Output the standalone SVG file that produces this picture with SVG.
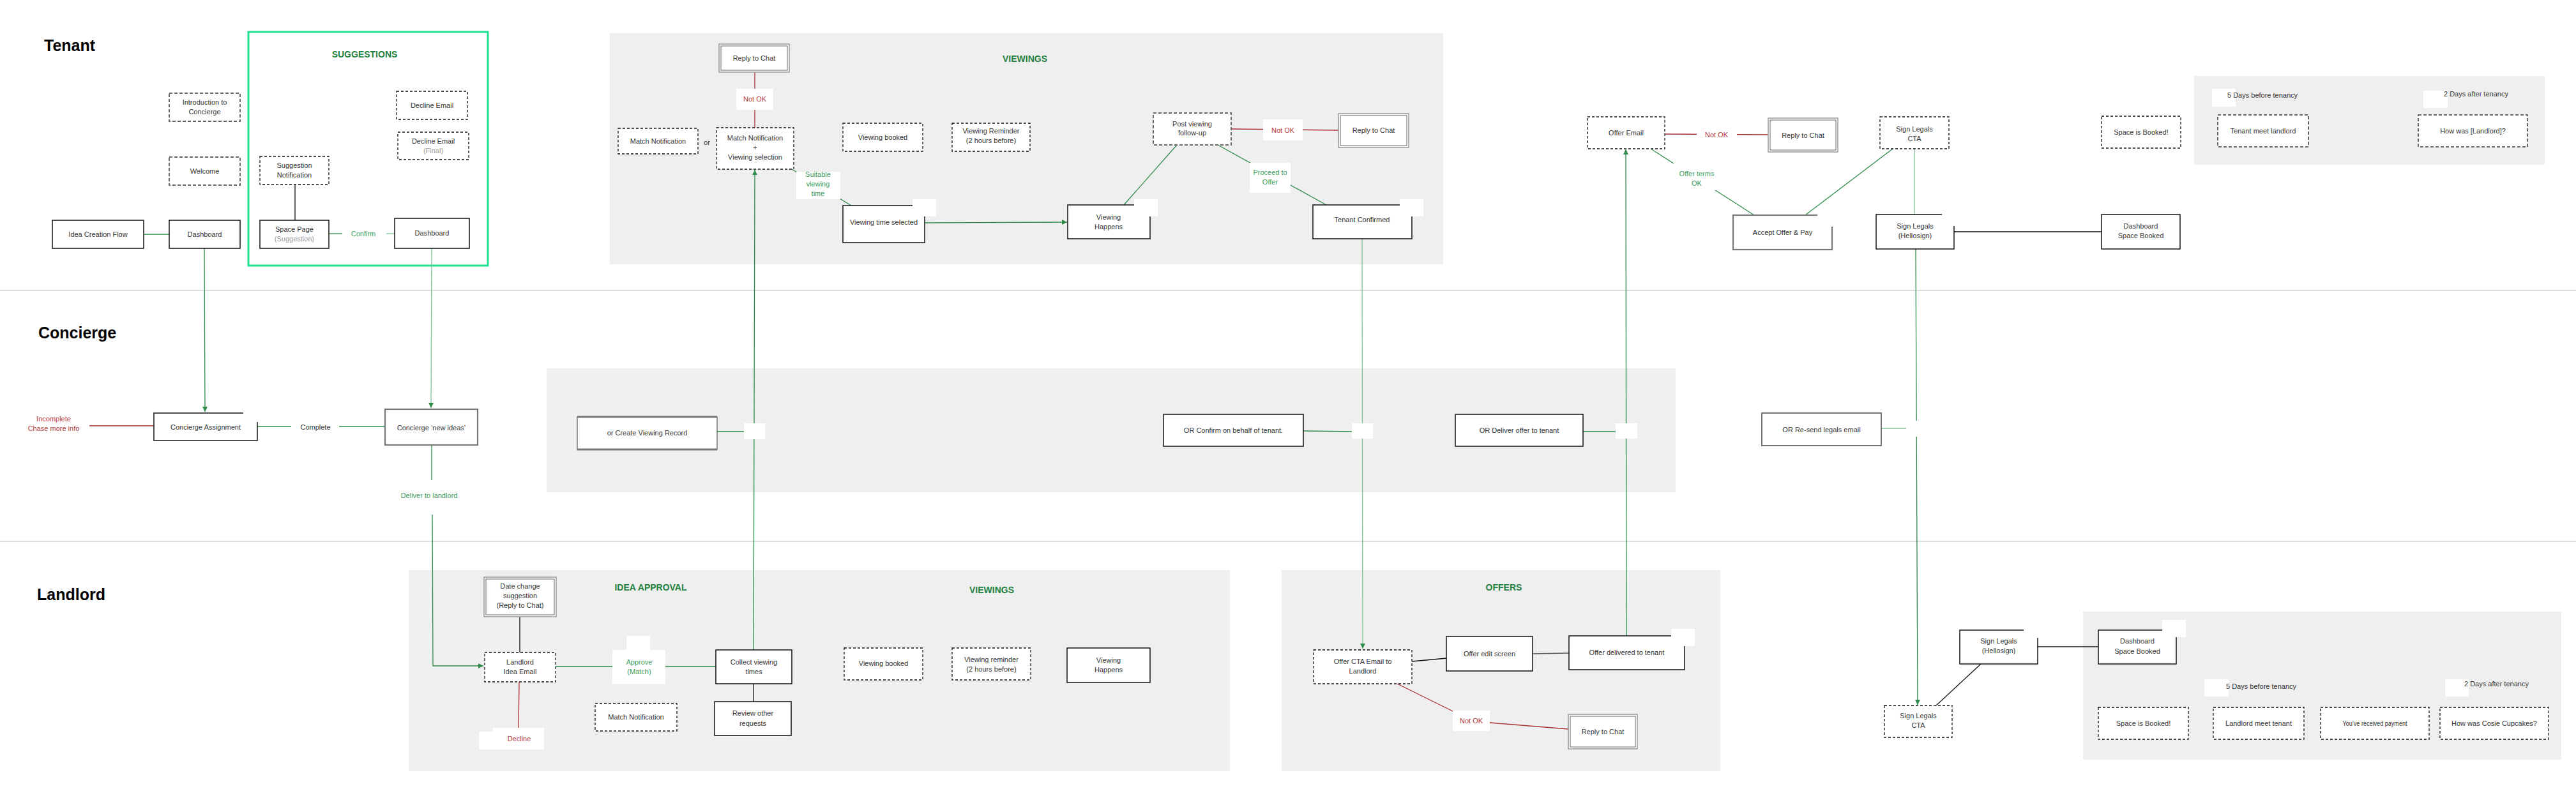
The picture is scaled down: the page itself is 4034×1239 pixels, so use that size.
<svg xmlns="http://www.w3.org/2000/svg" width="4034" height="1239" viewBox="0 0 4034 1239">
<defs>
<style>
.n{fill:#fff;stroke:#111;stroke-width:1.5}
.d{fill:#fff;stroke:#111;stroke-width:1.3;stroke-dasharray:4 3}
.dg{fill:#fff;stroke:#666;stroke-width:2;stroke-dasharray:5 3}
.gb{fill:#fff;stroke:#777;stroke-width:2.2}
.dbo{fill:#fff;stroke:#999;stroke-width:1.5}
.dbi{fill:none;stroke:#666;stroke-width:1}
.t{font-family:"Liberation Sans",Arial,sans-serif;font-size:11px;fill:#333;text-anchor:middle}
.sub{fill:#999}
.lg{fill:#3a9d5d}
.lr{fill:#b53a3a}
.h{font-family:"Liberation Sans",Arial,sans-serif;font-weight:bold;font-size:14px;fill:#1f7f3e;text-anchor:middle}
.lane{font-family:"Liberation Sans",Arial,sans-serif;font-weight:bold;font-size:25px;fill:#000}
.cg{stroke:#2e8b4a;stroke-width:1.3;fill:none}
.cl{stroke:#7fbf96;stroke-width:1.3;fill:none}
.cr{stroke:#a83232;stroke-width:1.3;fill:none}
.ck{stroke:#111;stroke-width:1.3;fill:none}
.bg{fill:#efefef}
.wp{fill:#fff}
.sep{stroke:#dddddd;stroke-width:2}
</style>
<marker id="ag" viewBox="0 0 10 10" refX="10" refY="5" markerWidth="8" markerHeight="8" markerUnits="userSpaceOnUse" orient="auto"><path d="M0,0 L10,5 L0,10 z" fill="#2e8b4a"/></marker>
</defs>
<rect width="4034" height="1239" fill="#fff"/>

<g id="backgrounds">
<line class="sep" x1="0" y1="455" x2="4034" y2="455"/>
<line class="sep" x1="0" y1="848" x2="4034" y2="848"/>
<rect class="bg" x="955" y="52" width="1305" height="362"/>
<rect class="bg" x="3436" y="119" width="549" height="139"/>
<rect class="bg" x="856" y="577" width="1768" height="194"/>
<rect class="bg" x="640" y="893" width="1286" height="315"/>
<rect class="bg" x="2007" y="893" width="687" height="315"/>
<rect class="bg" x="3262" y="958" width="749" height="232"/>
<rect x="389" y="50" width="375" height="366" fill="none" stroke="#1ee08e" stroke-width="3"/>
</g>

<g id="titles">
<text class="lane" x="69" y="80">Tenant</text>
<text class="lane" x="60" y="530">Concierge</text>
<text class="lane" x="58" y="940">Landlord</text>
<text class="h" x="571" y="90">SUGGESTIONS</text>
<text class="h" x="1605" y="97">VIEWINGS</text>
<text class="h" x="1019" y="925">IDEA APPROVAL</text>
<text class="h" x="1553" y="929">VIEWINGS</text>
<text class="h" x="2355" y="925">OFFERS</text>
</g>

<g id="connectors">
<!-- tenant suggestions -->
<line class="cg" x1="225" y1="367" x2="265" y2="367"/>
<line class="ck" x1="462" y1="289" x2="462" y2="345"/>
<line class="cg" x1="515" y1="366" x2="536" y2="366"/>
<line class="cl" x1="605" y1="366" x2="618" y2="366"/>
<text class="t lg" x="569" y="370">Confirm</text>
<line class="cg" x1="320" y1="389" x2="321" y2="645" marker-end="url(#ag)"/>
<line class="cl" x1="676" y1="389" x2="675" y2="639" marker-end="url(#ag)"/>
<!-- concierge -->
<line class="cr" x1="140" y1="667" x2="241" y2="667"/>
<text class="t lr" x="84" y="660">Incomplete</text>
<text class="t lr" x="84" y="675">Chase more info</text>
<line class="cg" x1="403" y1="668" x2="456" y2="668"/>
<line class="cg" x1="531" y1="668" x2="603" y2="668"/>
<text class="t" x="494" y="673" fill="#444">Complete</text>
<line class="cg" x1="676" y1="697" x2="676" y2="752"/>
<text class="t lg" x="672" y="780">Deliver to landlord</text>
<polyline class="cg" points="677,806 678,1043 757,1043" marker-end="url(#ag)"/>
<!-- viewings tenant -->
<line class="cr" x1="1182" y1="113" x2="1182" y2="200"/>
<rect class="wp" x="1153" y="139" width="58" height="33"/>
<text class="t lr" x="1182" y="159">Not OK</text>
<line class="cg" x1="1240" y1="265" x2="1333" y2="322"/>
<rect class="wp" x="1247" y="269" width="69" height="43"/>
<text class="t lg" x="1281" y="277">Suitable</text>
<text class="t lg" x="1281" y="292">viewing</text>
<text class="t lg" x="1281" y="307">time</text>
<line class="cg" x1="1448" y1="349" x2="1671" y2="348" marker-end="url(#ag)"/>
<line class="cg" x1="1760" y1="321" x2="1843" y2="227"/>
<line class="cg" x1="1907" y1="227" x2="2077" y2="321"/>
<rect class="wp" x="1957" y="255" width="64" height="47"/>
<text class="t lg" x="1989" y="274">Proceed to</text>
<text class="t lg" x="1989" y="289">Offer</text>
<line class="cr" x1="1928" y1="202" x2="2096" y2="204"/>
<rect class="wp" x="1978" y="187" width="62" height="33"/>
<text class="t lr" x="2009" y="208">Not OK</text>
<line class="cl" x1="2133" y1="374" x2="2134" y2="1016" marker-end="url(#ag)"/>
<line class="cg" x1="1180" y1="1018" x2="1182" y2="266" marker-end="url(#ag)"/>
<line class="cg" x1="1123" y1="676" x2="1165" y2="676"/>
<line class="cg" x1="2041" y1="675" x2="2117" y2="676"/>
<line class="cg" x1="2479" y1="676" x2="2530" y2="676"/>
<line class="cg" x1="2547" y1="996" x2="2546" y2="234" marker-end="url(#ag)"/>
<!-- offers tenant -->
<line class="cr" x1="2607" y1="210" x2="2769" y2="211"/>
<rect class="wp" x="2657" y="200" width="63" height="22"/>
<text class="t lr" x="2688" y="215">Not OK</text>
<line class="cg" x1="2585" y1="233" x2="2747" y2="337"/>
<rect class="wp" x="2620" y="256" width="72" height="42"/>
<text class="t lg" x="2657" y="276">Offer terms</text>
<text class="t lg" x="2657" y="291">OK</text>
<line class="cg" x1="2964" y1="233" x2="2827" y2="337"/>
<line class="cl" x1="2998" y1="233" x2="2998" y2="336"/>
<line class="ck" x1="3060" y1="363" x2="3291" y2="363"/>
<line class="cg" x1="3000" y1="390" x2="3003" y2="1104" marker-end="url(#ag)"/>
<line class="cl" x1="2946" y1="671" x2="2985" y2="671"/>
<!-- landlord -->
<line class="ck" x1="814" y1="966" x2="814" y2="1022"/>
<line class="cg" x1="870" y1="1044" x2="1121" y2="1044"/>
<rect class="wp" x="959" y="1018" width="83" height="53"/>
<rect class="wp" x="981" y="996" width="37" height="22"/>
<text class="t lg" x="1001" y="1041">Approve</text>
<text class="t lg" x="1001" y="1056">(Match)</text>
<line class="cr" x1="813" y1="1068" x2="812" y2="1140"/>
<rect class="wp" x="750" y="1146" width="22" height="28"/>
<rect class="wp" x="772" y="1140" width="80" height="34"/>
<text class="t lr" x="813" y="1161">Decline</text>
<line class="ck" x1="1180" y1="1071" x2="1180" y2="1099"/>
<line class="ck" x1="2211" y1="1036" x2="2265" y2="1031"/>
<line x1="2400" y1="1024" x2="2457" y2="1023" stroke="#555" stroke-width="1.5"/>
<line class="cr" x1="2188" y1="1071" x2="2275" y2="1114"/>
<line class="cr" x1="2333" y1="1132" x2="2456" y2="1142"/>
<rect class="wp" x="2275" y="1113" width="58" height="32"/>
<text class="t lr" x="2304" y="1133">Not OK</text>
<line class="ck" x1="3032" y1="1105" x2="3102" y2="1040"/>
<line class="ck" x1="3191" y1="1013" x2="3286" y2="1013"/>
</g>

<g id="tenant-nodes">
<g id="t-idea"><rect class="n" x="82" y="345" width="143" height="44"/><text class="t" x="153.5" y="371">Idea Creation Flow</text></g>
<g id="t-dash1"><rect class="n" x="265" y="345" width="111" height="44"/><text class="t" x="320.5" y="371">Dashboard</text></g>
<g id="t-intro"><rect class="dg" x="265" y="146" width="111" height="44"/><text class="t" x="320.5" y="164">Introduction to</text><text class="t" x="320.5" y="179">Concierge</text></g>
<g id="t-welcome"><rect class="dg" x="265" y="246" width="111" height="44"/><text class="t" x="320.5" y="272">Welcome</text></g>
<g id="t-sugnotif"><rect class="d" x="407" y="245" width="108" height="44"/><text class="t" x="461" y="263">Suggestion</text><text class="t" x="461" y="278">Notification</text></g>
<g id="t-spacepage"><rect class="n" x="407" y="345" width="108" height="44"/><text class="t" x="461" y="363">Space Page</text><text class="t sub" x="461" y="378">(Suggestion)</text></g>
<g id="t-decline"><rect class="d" x="621" y="143" width="111" height="44"/><text class="t" x="676.5" y="169">Decline Email</text></g>
<g id="t-declinefinal"><rect class="d" x="623" y="207" width="111" height="43"/><text class="t" x="678.5" y="225">Decline Email</text><text class="t sub" x="678.5" y="240">(Final)</text></g>
<g id="t-dash2"><rect class="n" x="618" y="342" width="117" height="47"/><text class="t" x="676.5" y="369">Dashboard</text></g>
<g id="t-reply1"><rect class="dbo" x="1126" y="69" width="110" height="44"/><rect class="dbi" x="1129" y="72" width="104" height="38"/><text class="t" x="1181" y="95">Reply to Chat</text></g>
<g id="t-match1"><rect class="d" x="968" y="201" width="125" height="40"/><text class="t" x="1030.5" y="225">Match Notification</text></g>
<text class="t" x="1107" y="227">or</text>
<g id="t-matchsel"><rect class="d" x="1122" y="200" width="121" height="65"/><text class="t" x="1182.5" y="220">Match Notification</text><text class="t" x="1182.5" y="235">+</text><text class="t" x="1182.5" y="250">Viewing selection</text></g>
<g id="t-vbooked"><rect class="d" x="1320" y="193" width="125" height="44"/><text class="t" x="1382.5" y="219">Viewing booked</text></g>
<g id="t-vrem"><rect class="d" x="1491" y="193" width="122" height="44"/><text class="t" x="1552" y="209">Viewing Reminder</text><text class="t" x="1552" y="224">(2 hours before)</text></g>
<g id="t-vtime"><rect class="n" x="1320" y="322" width="128" height="58"/><text class="t" x="1384" y="352">Viewing time selected</text></g>
<g id="t-vhappens"><rect class="n" x="1672" y="321" width="129" height="53"/><text class="t" x="1736" y="344">Viewing</text><text class="t" x="1736" y="359">Happens</text></g>
<g id="t-postview"><rect class="dg" x="1806" y="177" width="122" height="50"/><text class="t" x="1867" y="198">Post viewing</text><text class="t" x="1867" y="212">follow-up</text></g>
<g id="t-reply2"><rect class="dbo" x="2096" y="178" width="110" height="53"/><rect class="dbi" x="2099" y="181" width="104" height="47"/><text class="t" x="2151" y="208">Reply to Chat</text></g>
<g id="t-tconf"><rect class="n" x="2056" y="321" width="155" height="53"/><text class="t" x="2133" y="348">Tenant Confirmed</text></g>
<g id="t-offeremail"><rect class="d" x="2486" y="183" width="121" height="50"/><text class="t" x="2546.5" y="212">Offer Email</text></g>
<g id="t-reply3"><rect class="dbo" x="2769" y="185" width="109" height="53"/><rect class="dbi" x="2772" y="188" width="103" height="47"/><text class="t" x="2823.5" y="216">Reply to Chat</text></g>
<g id="t-accept"><rect class="gb" x="2714" y="337" width="155" height="54"/><text class="t" x="2791.5" y="368">Accept Offer &amp; Pay</text></g>
<g id="t-slcta"><rect class="d" x="2944" y="183" width="108" height="50"/><text class="t" x="2998" y="206">Sign Legals</text><text class="t" x="2998" y="221">CTA</text></g>
<g id="t-slhello"><rect class="n" x="2938" y="336" width="122" height="54"/><text class="t" x="2999" y="358">Sign Legals</text><text class="t" x="2999" y="373">(Hellosign)</text></g>
<g id="t-spacebooked"><rect class="d" x="3291" y="182" width="124" height="50"/><text class="t" x="3353" y="211">Space is Booked!</text></g>
<g id="t-dashbooked"><rect class="n" x="3291" y="336" width="123" height="54"/><text class="t" x="3352.5" y="358">Dashboard</text><text class="t" x="3352.5" y="373">Space Booked</text></g>
<g id="t-meet"><rect class="dg" x="3473" y="180" width="142" height="50"/><text class="t" x="3544" y="209">Tenant meet landlord</text></g>
<g id="t-howwas"><rect class="dg" x="3787" y="180" width="171" height="50"/><text class="t" x="3872.5" y="209">How was [Landlord]?</text></g>
</g>

<g id="concierge-nodes">
<g id="c-assign"><rect class="n" x="241" y="647" width="162" height="43"/><text class="t" x="322" y="673">Concierge Assignment</text></g>
<g id="c-newideas"><rect class="gb" x="603" y="641" width="145" height="56"/><text class="t" x="675.5" y="674">Concierge ‘new ideas’</text></g>
<g id="c-createview"><rect x="904" y="653" width="219" height="51" fill="#fff" stroke="#333" stroke-width="1"/><line x1="904" y1="653" x2="1123" y2="653" stroke="#777" stroke-width="3"/><line x1="904" y1="704" x2="1123" y2="704" stroke="#777" stroke-width="3"/><text class="t" x="1013.5" y="682">or Create Viewing Record</text></g>
<g id="c-confirm"><rect class="n" x="1822" y="649" width="219" height="50"/><text class="t" x="1931.5" y="678">OR Confirm on behalf of tenant.</text></g>
<g id="c-deliver"><rect class="n" x="2279" y="649" width="200" height="50"/><text class="t" x="2379" y="678">OR Deliver offer to tenant</text></g>
<g id="c-resend"><rect x="2759" y="647" width="187" height="51" fill="#fff" stroke="#666" stroke-width="1.8"/><text class="t" x="2852.5" y="677">OR Re-send legals email</text></g>
</g>

<g id="landlord-nodes">
<g id="l-datechange"><rect class="dbo" x="758" y="904" width="113" height="62"/><rect class="dbi" x="761" y="907" width="107" height="56"/><text class="t" x="814.5" y="922">Date change</text><text class="t" x="814.5" y="937">suggestion</text><text class="t" x="814.5" y="952">(Reply to Chat)</text></g>
<g id="l-ideaemail"><rect class="d" x="759" y="1022" width="111" height="46"/><text class="t" x="814.5" y="1041">Landlord</text><text class="t" x="814.5" y="1056">Idea Email</text></g>
<g id="l-collect"><rect class="n" x="1121" y="1018" width="119" height="53"/><text class="t" x="1180.5" y="1041">Collect viewing</text><text class="t" x="1180.5" y="1056">times</text></g>
<g id="l-review"><rect class="n" x="1119" y="1099" width="120" height="53"/><text class="t" x="1179" y="1121">Review other</text><text class="t" x="1179" y="1137">requests</text></g>
<g id="l-matchnotif"><rect class="d" x="932" y="1102" width="128" height="43"/><text class="t" x="996" y="1127">Match Notification</text></g>
<g id="l-vbooked"><rect class="d" x="1322" y="1015" width="123" height="50"/><text class="t" x="1383.5" y="1043">Viewing booked</text></g>
<g id="l-vrem"><rect class="d" x="1491" y="1015" width="123" height="50"/><text class="t" x="1552.5" y="1037">Viewing reminder</text><text class="t" x="1552.5" y="1052">(2 hours before)</text></g>
<g id="l-vhappens"><rect class="n" x="1671" y="1015" width="130" height="54"/><text class="t" x="1736" y="1038">Viewing</text><text class="t" x="1736" y="1053">Happens</text></g>
<g id="l-offercta"><rect class="d" x="2057" y="1018" width="154" height="53"/><text class="t" x="2134" y="1040">Offer CTA Email to</text><text class="t" x="2134" y="1055">Landlord</text></g>
<g id="l-offeredit"><rect class="n" x="2265" y="997" width="135" height="54"/><text class="t" x="2332.5" y="1028">Offer edit screen</text></g>
<g id="l-offerdeliv"><rect class="n" x="2457" y="996" width="181" height="53"/><text class="t" x="2547.5" y="1026">Offer delivered to tenant</text></g>
<g id="l-reply"><rect class="dbo" x="2456" y="1119" width="108" height="54"/><rect class="dbi" x="2459" y="1122" width="102" height="48"/><text class="t" x="2510" y="1150">Reply to Chat</text></g>
<g id="l-slcta"><rect class="d" x="2951" y="1105" width="106" height="50"/><text class="t" x="3004" y="1125">Sign Legals</text><text class="t" x="3004" y="1140">CTA</text></g>
<g id="l-slhello"><rect class="n" x="3069" y="987" width="122" height="53"/><text class="t" x="3130" y="1008">Sign Legals</text><text class="t" x="3130" y="1023">(Hellosign)</text></g>
<g id="l-dashbooked"><rect class="n" x="3286" y="987" width="122" height="53"/><text class="t" x="3347" y="1008">Dashboard</text><text class="t" x="3347" y="1024">Space Booked</text></g>
<g id="l-spacebooked"><rect class="d" x="3286" y="1108" width="141" height="50"/><text class="t" x="3356.5" y="1137">Space is Booked!</text></g>
<g id="l-meet"><rect class="d" x="3466" y="1108" width="142" height="50"/><text class="t" x="3537" y="1137">Landlord meet tenant</text></g>
<g id="l-payment"><rect class="d" x="3634" y="1108" width="170" height="50"/><text class="t" x="3719" y="1137" textLength="101" lengthAdjust="spacingAndGlyphs">You’ve received payment</text></g>
<g id="l-howwas"><rect class="d" x="3821" y="1108" width="170" height="50"/><text class="t" x="3906" y="1137">How was Cosie Cupcakes?</text></g>
</g>

<g id="patches">
<rect class="wp" x="1429" y="312" width="37" height="27"/>
<rect class="wp" x="1776" y="312" width="37" height="27"/>
<rect class="wp" x="2192" y="312" width="37" height="27"/>
<rect class="wp" x="381" y="644" width="24" height="17"/>
<rect class="wp" x="2846" y="330" width="27" height="25"/>
<rect class="wp" x="3041" y="330" width="22" height="24"/>
<rect class="wp" x="3169" y="980" width="25" height="19"/>
<rect class="wp" x="3386" y="971" width="37" height="27"/>
<rect class="wp" x="2617" y="985" width="37" height="27"/>
<rect class="wp" x="1165" y="663" width="33" height="25"/>
<rect class="wp" x="2117" y="663" width="33" height="24"/>
<rect class="wp" x="2530" y="663" width="34" height="24"/>
<rect class="wp" x="2985" y="659" width="32" height="25"/>
<rect class="wp" x="3464" y="139" width="37" height="28"/>
<rect class="wp" x="3795" y="142" width="38" height="27"/>
<rect class="wp" x="3452" y="1064" width="38" height="27"/>
<rect class="wp" x="3829" y="1064" width="37" height="27"/>
</g>

<g id="notes">
<text class="t" x="3488" y="153" text-anchor="start" style="text-anchor:start">5 Days before tenancy</text>
<text class="t" x="3827" y="151" style="text-anchor:start">2 Days after tenancy</text>
<text class="t" x="3486" y="1079" style="text-anchor:start">5 Days before tenancy</text>
<text class="t" x="3859" y="1075" style="text-anchor:start">2 Days after tenancy</text>
</g>
</svg>
